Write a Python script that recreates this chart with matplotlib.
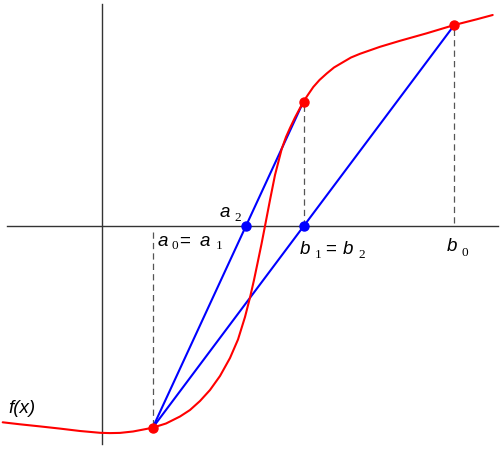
import numpy as np
import matplotlib
matplotlib.use("Agg")
import matplotlib.pyplot as plt

plt.rcParams['lines.scale_dashes'] = False

# curve f(x) (units: pixels from the axes crossing)
curve_x = [-99.3, -82, -62, -42, -22, -2, 8, 18, 31, 41, 50.7, 64, 78, 88, 98,
           108, 118, 128, 136, 143, 148, 152, 155.5, 159.5, 163, 168, 173,
           179.7, 184, 188, 193, 201.5, 206.5, 211.3, 217.5, 224.7, 232,
           241.3, 249, 258, 278, 298, 324.7, 352.3, 374.7, 390.7]
curve_y = [-196.8, -198.8, -200.9, -203.1, -205.5, -207.3, -207.6, -207.4,
           -206, -204.1, -202.2, -198, -191, -184.5, -175.5, -164.5, -150.5,
           -132.5, -114, -91.5, -72, -54.5, -37.8, -18.5, -0.5, 25.5, 50.5,
           76.5, 88.5, 97.5, 108, 124, 131.5, 138.5, 145.5, 152, 158, 163.5,
           168, 171.7, 178.7, 184.7, 192.2, 200.5, 206.2, 210.5]

# points of the false position steps
a0, fa0 = 50.7, -202.2
b0, fb0 = 352.3, 200.5
b1, fb1 = 201.5, 124
a2 = 144

red_x = [a0, b1, b0]
red_y = [fa0, fb1, fb0]
blue_x = [a2, b1]
blue_y = [0, 0]

fig = plt.figure(figsize=(5, 4.49), dpi=100)
ax = fig.add_axes([0, 0, 1, 1])
ax.set_xlim(-102, 398)
ax.set_ylim(-223.5, 225.5)
ax.axis('off')

# axes
ax.plot([-95, 396], [0, 0], color='#333333', lw=1.0)
ax.plot([0, 0], [-218.5, 222], color='#333333', lw=1.0)

# dashed guides
dash = dict(color='#555555', lw=0.9, dashes=(4.5, 3))
ax.plot([a0, a0], [-6, fa0], **dash)
ax.plot([b1, b1], [0, fb1], **dash)
ax.plot([b0, b0], [3, fb0], **dash)

# secant lines
ax.plot([a0, b0], [fa0, fb0], color='#0000ff', lw=1.5)
ax.plot([a0, b1], [fa0, fb1], color='#0000ff', lw=1.5)

# the function
ax.plot(curve_x, curve_y, color='#ff0000', lw=1.5,
        solid_capstyle='round', solid_joinstyle='round')

ax.plot(red_x, red_y, 'o', color='#ff0000', ms=6.5, zorder=5)
ax.plot(blue_x, blue_y, 'o', color='#0000ff', ms=6.5, zorder=5)

# labels
let = dict(family='Liberation Sans', style='italic', fontsize=13.5,
           ha='left', va='baseline')
sub = dict(family='Liberation Serif', fontsize=9.5, ha='left', va='baseline')
eq = dict(family='Liberation Sans', fontsize=13.5, ha='left', va='baseline')

ax.text(56, -20.5, 'a', **let)
ax.text(69, -23.5, '0', **sub)
ax.text(77.5, -20.5, '=', **eq)
ax.text(98, -20.5, 'a', **let)
ax.text(113.5, -23.5, '1', **sub)

ax.text(118, 8.5, 'a', **let)
ax.text(132, 4.5, '2', **sub)

ax.text(198, -28.5, 'b', **let)
ax.text(213, -32.5, '1', **sub)
ax.text(223, -28.5, '=', **eq)
ax.text(241, -28.5, 'b', **let)
ax.text(256, -32.5, '2', **sub)

ax.text(345, -25.5, 'b', **let)
ax.text(359.5, -31, '0', **sub)

ax.text(-94, -187.5, 'f(x)', **let)

fig.savefig('out.png', dpi=100)
